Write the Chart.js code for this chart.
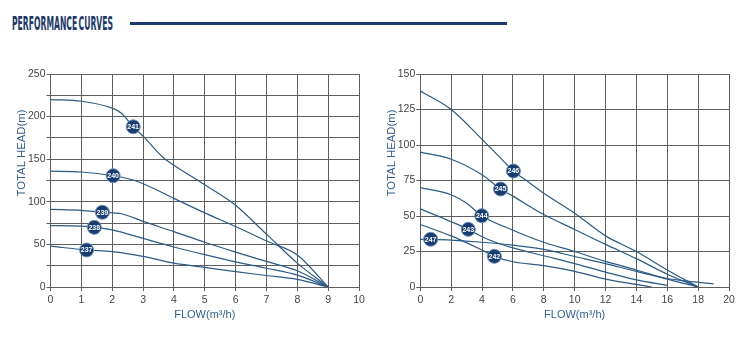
<!DOCTYPE html>
<html><head><meta charset="utf-8">
<script src="https://cdn.jsdelivr.net/npm/chart.js@4.4.1/dist/chart.umd.min.js"></script>
<style>
html,body{margin:0;padding:0;background:#fff;width:750px;height:351px;overflow:hidden;font-family:"Liberation Sans",Arial,sans-serif;}
#hdr{position:absolute;left:12px;top:14px;font-family:"Liberation Sans Narrow","DejaVu Sans Condensed","Liberation Sans",sans-serif;font-weight:bold;font-size:19.5px;line-height:20px;color:#1b3a6b;white-space:nowrap;transform-origin:0 0;word-spacing:-3px;}
#rule{position:absolute;left:130px;top:22px;width:377px;height:3px;background:#1b3a6b;}
.wrap{position:absolute;top:60px;width:375px;height:275px;}
</style></head>
<body>
<div id="hdr">PERFORMANCE CURVES</div>
<div id="rule"></div>
<div class="wrap" style="left:0"><canvas id="c1" width="375" height="275"></canvas></div>
<div class="wrap" style="left:375px"><canvas id="c2" width="375" height="275"></canvas></div>
<script>
// ---------- Left chart data (flow m3/h, head m) ----------
const leftXTicks = [0,1,2,3,4,5,6,7,8,9,10];
const leftYLabels = [0,50,100,150,200,250];
const curve241 = [[0,220],[1,218],[2,210],[2.3,204],[2.68,188],[3,177],[3.65,152],[4,143],[5,120],[6,96],[7,62],[8,28],[9,0]];
const curve240 = [[0,136],[1,135],[2.03,130.6],[2.68,125.6],[3.22,117.7],[4,104],[5,87],[6,71],[7,54],[8,37.5],[9,0]];
const curve239 = [[0,91],[1,90],[1.68,87.7],[2.3,86],[3,77],[4,65],[5,52.5],[6,41],[7,30],[8,19],[9,0]];
const curve238 = [[0,72],[1,71.5],[1.42,70],[2,67],[3,57],[4,47],[5,38],[6,29.5],[7,22],[8,14],[9,0]];
const curve237 = [[0,48],[1.17,43.4],[2,41.5],[3,36],[4,28],[5,23],[6,18],[7,13.5],[8,9],[9,0]];
const leftBadges = [['241',2.68,188],['240',2.03,130.6],['239',1.68,87.7],['238',1.42,70],['237',1.17,43.4]];

// ---------- Right chart data ----------
const rightXTicks = [0,2,4,6,8,10,12,14,16,18,20];
const rightYLabels = [0,25,50,75,100,125,150];
const curve246 = [[0,138],[2,125],[4,104],[5,93],[6.03,81.7],[7,74],[8,66],[10,52],[12,36],[14,25],[16,12],[18,0]];
const curve245 = [[0,95],[2,90],[4,79],[5.2,69],[6,64],[8,51],[10,40.5],[12,30],[14,20],[16,9],[18,0]];
const curve244 = [[0,70],[2,65],[3,59],[3.98,50.2],[6,40],[8,31.5],[10,25],[12,18],[14,12],[16,5.5],[18,0]];
const curve243 = [[0,55],[2,46],[3.11,40.6],[4,35.4],[5,31],[6,27.5],[8,22],[10,16.5],[12,10.5],[14,5],[16,1.2]];
const curve242 = [[0,44],[2,36],[4,26],[4.8,21.6],[6,17.8],[8,15],[10,11],[12,5.5],[14,1.8],[15,0]];
const curve247 = [[0,33.5],[0.67,33.6],[2,33],[4,31.5],[6,29.5],[8,26.5],[10,21.5],[12,16.5],[14,11],[16,6],[17,4.5],[19,2.2]];
const rightBadges = [['246',6.03,81.7],['245',5.2,69],['244',3.98,50.2],['243',3.11,40.6],['242',4.8,21.6],['247',0.67,33.6]];

const LINE = '#2c5a87';
const GRID = '#5e5e5e';
const TITLE = '#2f5f8f';

// header width fit
(function(){
  const h = document.getElementById('hdr');
  const w = h.getBoundingClientRect().width;
  h.style.transform = 'scaleX(' + (101 / w) + ')';
})();

const badgePlugin = {
  id: 'badges',
  afterDatasetsDraw(chart, args, opts) {
    const ctx = chart.ctx, xs = chart.scales.x, ys = chart.scales.y;
    (opts.items || []).forEach(function(b){
      const px = xs.getPixelForValue(b[1]), py = ys.getPixelForValue(b[2]);
      ctx.save();
      ctx.beginPath(); ctx.arc(px, py, 7, 0, Math.PI*2);
      ctx.fillStyle = '#173d70'; ctx.fill();
      ctx.lineWidth = 1; ctx.strokeStyle = '#6e8fb4'; ctx.stroke();
      ctx.fillStyle = '#ffffff';
      ctx.font = 'bold 7px "Liberation Sans Narrow","Liberation Sans",sans-serif';
      ctx.textAlign = 'center'; ctx.textBaseline = 'middle';
      ctx.fillText(b[0], px, py + 0.5);
      ctx.restore();
    });
  }
};

const yTitlePlugin = {
  id: 'ytitle',
  afterDraw(chart, args, opts) {
    const ctx = chart.ctx, a = chart.chartArea;
    ctx.save();
    ctx.translate(opts.x, a.top + (a.bottom - a.top) * 0.371);
    ctx.rotate(-Math.PI/2);
    ctx.fillStyle = TITLE;
    ctx.font = '11.3px "Liberation Sans",Arial,sans-serif';
    ctx.textAlign = 'center'; ctx.textBaseline = 'middle';
    ctx.fillText(opts.text, 0, 0);
    ctx.restore();
  }
};

function toXY(arr){ return arr.map(function(p){ return {x:p[0], y:p[1]}; }); }

function makeChart(id, curves, xMax, xStep, yMax, yLabels, badges, yWidth, padRight, yTitleX) {
  return new Chart(document.getElementById(id), {
    type: 'line',
    data: {
      datasets: curves.map(function(c){
        return { data: toXY(c), borderColor: LINE, borderWidth: 1.2, pointRadius: 0,
                 fill: false, cubicInterpolationMode: 'monotone' };
      })
    },
    options: {
      responsive: false, animation: false, devicePixelRatio: 1,
      layout: { padding: { top: 14, right: padRight, bottom: 0, left: 0 } },
      plugins: {
        legend: { display: false }, tooltip: { enabled: false },
        badges: { items: badges },
        ytitle: { text: 'TOTAL HEAD(m)', x: yTitleX }
      },
      scales: {
        x: {
          type: 'linear', min: 0, max: xMax,
          ticks: { stepSize: xStep, autoSkip: false, color: '#444', padding: 3,
                   font: { size: 10.5, family: '"Liberation Sans",Arial,sans-serif' } },
          grid: { color: GRID, lineWidth: 1, tickLength: 4, tickColor: GRID },
          border: { color: GRID, width: 1 },
          title: { display: true, text: 'FLOW(m³/h)', color: TITLE,
                   font: { size: 11, family: '"Liberation Sans",Arial,sans-serif' },
                   padding: { top: 0, bottom: 13 } },
          afterFit: function(s){ s.height = 48; }
        },
        y: {
          type: 'linear', min: 0, max: yMax,
          ticks: { stepSize: 25, autoSkip: false, color: '#444', padding: 1,
                   font: { size: 10.5, family: '"Liberation Sans",Arial,sans-serif' },
                   callback: function(v){ return yLabels.indexOf(v) >= 0 ? String(v) : ''; } },
          grid: { color: GRID, lineWidth: 1, tickLength: 4, tickColor: GRID },
          border: { color: GRID, width: 1 },
          afterFit: function(s){ s.width = yWidth; }
        }
      }
    },
    plugins: [badgePlugin, yTitlePlugin]
  });
}

makeChart('c1', [curve241, curve240, curve239, curve238, curve237], 10, 1, 250, leftYLabels, leftBadges, 50.5, 16, 22);
makeChart('c2', [curve246, curve245, curve244, curve243, curve242, curve247], 20, 2, 150, rightYLabels, rightBadges, 45.3, 21, 17);
</script>
</body></html>
